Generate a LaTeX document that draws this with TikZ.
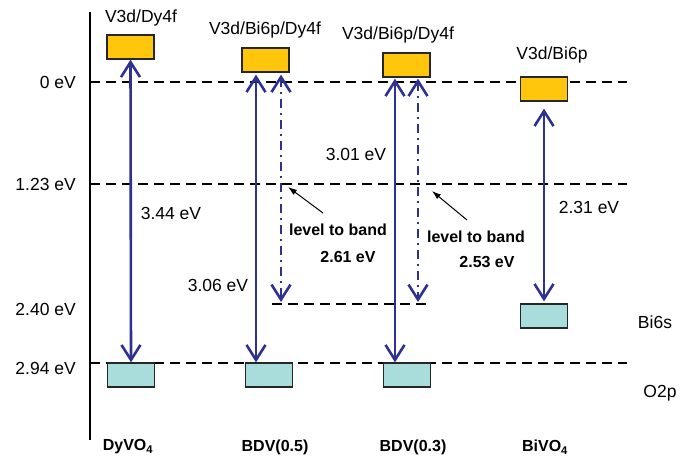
\documentclass[tikz,border=0pt]{standalone}
\usepackage{fontspec}
\setmainfont{Liberation Sans}
\usetikzlibrary{arrows.meta, positioning}
\definecolor{cbgold}{HTML}{FFC60B}
\definecolor{vbcyan}{HTML}{A9DDDC}
\definecolor{bandblue}{HTML}{2E3192}

\begin{document}
\begin{tikzpicture}[
    x=1pt, y=-1pt,
    font=\fontsize{17.5}{20}\selectfont,
    cb/.style={rectangle, draw=black!85, line width=1.3pt, fill=cbgold, minimum width=47pt, minimum height=24pt, inner sep=0pt},
    vb/.style={cb, fill=vbcyan},
    lbl/.style={inner sep=0pt},
    bold/.style={font=\fontsize{16}{19}\selectfont\bfseries, inner sep=0pt},
    level/.style={draw=black, line width=2pt, dash pattern=on 10pt off 6pt},
    gap/.style={draw=bandblue, line width=2.6pt, {Straight Barb[length=15pt,width=19pt]}-{Straight Barb[length=15pt,width=19pt]}},
    trap/.style={gap, dash pattern=on 9pt off 5pt on 2pt off 5pt},
    pointer/.style={-{Latex[length=9pt,width=6pt]}, line width=1pt}
  ]
    \useasboundingbox (0,0) rectangle (692,459);

    \draw[line width=2.6pt] (90,12) -- (90,440);
    \draw[level] (90,82) -- (627,82);
    \draw[level] (90,184) -- (627,184);
    \draw[level] (90,363) -- (627,363);
    \coordinate (la) at (272,304);
    \coordinate (lb) at (432,304);
    \draw[level] (la) -- (lb);

    \node[lbl, anchor=east] (e0) at (76,82) {0 eV};
    \node[lbl, anchor=east] (e123) at (76,184) {1.23 eV};
    \node[lbl, anchor=east] (e240) at (76,309) {2.40 eV};
    \node[lbl, anchor=east] (e294) at (76,368) {2.94 eV};

    \node[cb] (cb1) at (130.5,47) {};
    \node[cb] (cb2) at (265.5,60) {};
    \node[cb] (cb3) at (406.5,65) {};
    \node[cb] (cb4) at (544,89) {};
    \node[vb] (vb1) at (131,375) {};
    \node[vb] (vb2) at (269,375) {};
    \node[vb] (vb3) at (407,375) {};
    \node[vb] (vb4) at (544,316) {};

    \node[lbl] (t1) at (141,18) {V3d/Dy4f};
    \node[lbl] (t2) at (265,30) {V3d/Bi6p/Dy4f};
    \node[lbl] (t3) at (398,35) {V3d/Bi6p/Dy4f};
    \node[lbl] (t4) at (552,55) {V3d/Bi6p};

    \coordinate (x2) at (256,0);
    \coordinate (y2) at (281,0);
    \coordinate (x3) at (395,0);
    \coordinate (y3) at (418,0);
    \draw[gap] (cb1.south) -- (vb1.north);
    \draw[gap, shorten <=2pt] (cb2.south -| x2) -- (vb2.north -| x2);
    \draw[trap, shorten <=2pt, shorten >=2pt] (cb2.south -| y2) -- (la -| y2);
    \draw[gap, shorten <=1pt] (cb3.south -| x3) -- (vb3.north -| x3);
    \draw[trap, shorten <=1pt, shorten >=2pt] (cb3.south -| y3) -- (la -| y3);
    \draw[gap, shorten <=7pt, shorten >=2pt] (cb4.south) -- (vb4.north);

    \node[lbl] (g1) at (171,213) {3.44 eV};
    \node[lbl] (g2) at (218,285) {3.06 eV};
    \node[lbl] (g3) at (356,154) {3.01 eV};
    \node[lbl] (g4) at (589,207) {2.31 eV};

    \node[bold] (lv1) at (338,230) {level to band};
    \node[bold] (d1) at (348,257) {2.61 eV};
    \node[bold] (lv2) at (476,237) {level to band};
    \node[bold] (d2) at (487,262) {2.53 eV};
    \coordinate (p1) at (323,213);
    \coordinate (q1) at (288,187);
    \coordinate (p2) at (467,220);
    \coordinate (q2) at (432,191);
    \draw[pointer] (p1) -- (q1);
    \draw[pointer] (p2) -- (q2);

    \node[lbl] (bi6s) at (655,322) {Bi6s};
    \node[lbl] (o2p) at (660,393) {O2p};

    \node[bold] (s1) at (128,447) {DyVO\textsubscript{4}};
    \node[bold] (s2) at (275,447) {BDV(0.5)};
    \node[bold] (s3) at (413,447) {BDV(0.3)};
    \node[bold] (s4) at (545,447) {BiVO\textsubscript{4}};
\end{tikzpicture}
\end{document}
